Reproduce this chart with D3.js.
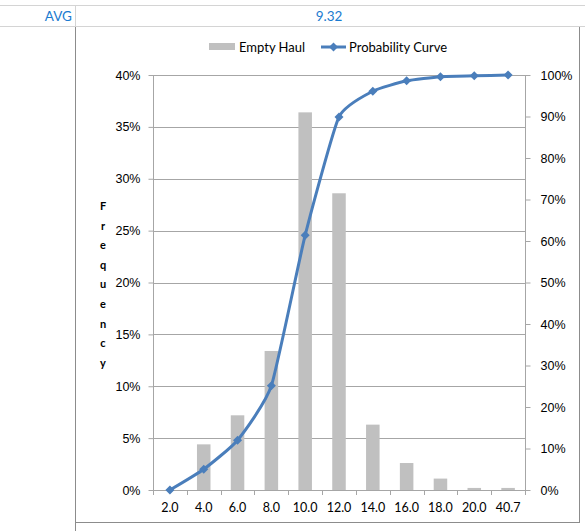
<!DOCTYPE html>
<html>
<head>
<meta charset="utf-8">
<script src="https://cdn.jsdelivr.net/npm/d3@7"></script>
<style>
  html, body { margin: 0; padding: 0; background: #ffffff; }
  svg { display: block; font-family: Lato, "Open Sans", sans-serif; }
</style>
</head>
<body>
<svg id="chart" width="585" height="531"></svg>
<script>
// Haul distance bins and their frequencies
const categories = ["2.0", "4.0", "6.0", "8.0", "10.0", "12.0", "14.0", "16.0", "18.0", "20.0", "40.7"];
const emptyHaul = [0, 4.4, 7.2, 13.4, 36.4, 28.6, 6.3, 2.6, 1.1, 0.2, 0.2];          // % of hauls
const probabilityCurve = [0, 5.0, 12.0, 25.1, 61.4, 89.9, 96.1, 98.6, 99.6, 99.8, 100]; // cumulative %
const leftTicks = [0, 5, 10, 15, 20, 25, 30, 35, 40];
const rightTicks = [0, 10, 20, 30, 40, 50, 60, 70, 80, 90, 100];
const avgLabel = "AVG";
const avgValue = "9.32";
const yTitle = "Frequency";

const svg = d3.select("#chart");

// --- spreadsheet cells around the chart ---
const cellLine = "#d4d4d4";
svg.append("line").attr("x1", 0).attr("x2", 585).attr("y1", 5.5).attr("y2", 5.5).attr("stroke", cellLine);
svg.append("line").attr("x1", 0).attr("x2", 585).attr("y1", 26.5).attr("y2", 26.5).attr("stroke", cellLine);
svg.append("line").attr("x1", 75.5).attr("x2", 75.5).attr("y1", 5).attr("y2", 26).attr("stroke", cellLine);
svg.append("text").attr("x", 72).attr("y", 20.5).attr("text-anchor", "end")
  .attr("fill", "#1a7bd0").attr("font-size", 13.5).text(avgLabel);
svg.append("text").attr("x", 329).attr("y", 20.5).attr("text-anchor", "middle")
  .attr("fill", "#1a7bd0").attr("font-size", 13.5).text(avgValue);

// chart area frame
const frame = "#8c8c8c";
svg.append("line").attr("x1", 75.5).attr("x2", 75.5).attr("y1", 27).attr("y2", 531).attr("stroke", frame);
svg.append("line").attr("x1", 579.5).attr("x2", 579.5).attr("y1", 27).attr("y2", 522.5).attr("stroke", frame);
svg.append("line").attr("x1", 75).attr("x2", 580).attr("y1", 522.5).attr("y2", 522.5).attr("stroke", frame);

// --- plot ---
const plot = { left: 153, right: 525, top: 75, bottom: 490 };
const x = d3.scaleBand().domain(categories).range([plot.left, plot.right]).padding(0);
const yL = d3.scaleLinear().domain([0, 40]).range([plot.bottom, plot.top]);
const yR = d3.scaleLinear().domain([0, 100]).range([plot.bottom, plot.top]);
const axisGray = "#a6a6a6";

// gridlines
svg.append("g").selectAll("line").data(leftTicks).join("line")
  .attr("x1", plot.left).attr("x2", plot.right)
  .attr("y1", d => Math.round(yL(d)) + 0.5).attr("y2", d => Math.round(yL(d)) + 0.5)
  .attr("stroke", axisGray);

// bars (gap width 150%)
const barW = x.bandwidth() / 2.5;
svg.append("g").selectAll("rect").data(categories).join("rect")
  .attr("x", d => x(d) + (x.bandwidth() - barW) / 2)
  .attr("width", barW)
  .attr("y", (d, i) => yL(emptyHaul[i]))
  .attr("height", (d, i) => yL(0) - yL(emptyHaul[i]))
  .attr("fill", "#c0c0c0");

// left axis
const gL = svg.append("g").attr("transform", `translate(${plot.left + 0.5},0)`)
  .call(d3.axisLeft(yL).tickValues(leftTicks).tickSize(5).tickSizeOuter(0).tickPadding(8)
    .tickFormat(d => d + "%"));
// right axis
const gR = svg.append("g").attr("transform", `translate(${plot.right + 0.5},0)`)
  .call(d3.axisRight(yR).tickValues(rightTicks).tickSize(5).tickSizeOuter(0).tickPadding(10)
    .tickFormat(d => d + "%"));
[gL, gR].forEach(g => {
  g.selectAll("path, line").attr("stroke", axisGray);
  g.selectAll("text").attr("font-size", 12.5).attr("fill", "#000");
  g.select(".domain").attr("d", `M0,${plot.top}V${plot.bottom}`);
});

// bottom axis: ticks on category boundaries, labels centred in each band
const gX = svg.append("g");
const bounds = categories.map(d => x(d)).concat([plot.right]);
gX.append("line").attr("x1", plot.left).attr("x2", plot.right + 5)
  .attr("y1", plot.bottom + 0.5).attr("y2", plot.bottom + 0.5).attr("stroke", axisGray);
gX.selectAll("line.tick").data(bounds).join("line").attr("class", "tick")
  .attr("x1", d => Math.round(d) + 0.5).attr("x2", d => Math.round(d) + 0.5)
  .attr("y1", plot.bottom).attr("y2", plot.bottom + 5).attr("stroke", axisGray);
gX.selectAll("text").data(categories).join("text")
  .attr("x", d => x(d) + x.bandwidth() / 2).attr("y", 512)
  .attr("text-anchor", "middle").attr("font-size", 12.5).text(d => d);

// cumulative probability curve (lightly smoothed)
const blue = "#4a7ebb";
const line = d3.line()
  .x((d, i) => x(categories[i]) + x.bandwidth() / 2)
  .y(d => yR(d))
  .curve(d3.curveCardinal.tension(0.5));
svg.append("path").datum(probabilityCurve).attr("d", line)
  .attr("fill", "none").attr("stroke", blue).attr("stroke-width", 3).attr("stroke-linejoin", "round");
const diamond = d3.symbol().type(d3.symbolDiamond2).size(52);
svg.append("g").selectAll("path").data(probabilityCurve).join("path")
  .attr("d", diamond)
  .attr("transform", (d, i) => `translate(${x(categories[i]) + x.bandwidth() / 2},${yR(d)})`)
  .attr("fill", blue);

// vertical axis title, one letter per line
svg.append("g").selectAll("text").data(yTitle.split("")).join("text")
  .attr("x", 103).attr("y", (d, i) => 210 + i * 19.6)
  .attr("text-anchor", "middle").attr("font-size", 11).attr("font-weight", "bold").text(d => d);

// legend
const lg = svg.append("g");
lg.append("rect").attr("x", 209).attr("y", 43).attr("width", 26).attr("height", 7).attr("fill", "#c0c0c0");
lg.append("text").attr("x", 239).attr("y", 51.5).attr("font-size", 13).text("Empty Haul");
lg.append("line").attr("x1", 321).attr("x2", 346).attr("y1", 47).attr("y2", 47)
  .attr("stroke", blue).attr("stroke-width", 3);
lg.append("path").attr("d", diamond).attr("transform", "translate(333.5,47)").attr("fill", blue);
lg.append("text").attr("x", 349).attr("y", 51.5).attr("font-size", 13).text("Probability Curve");
</script>
</body>
</html>
